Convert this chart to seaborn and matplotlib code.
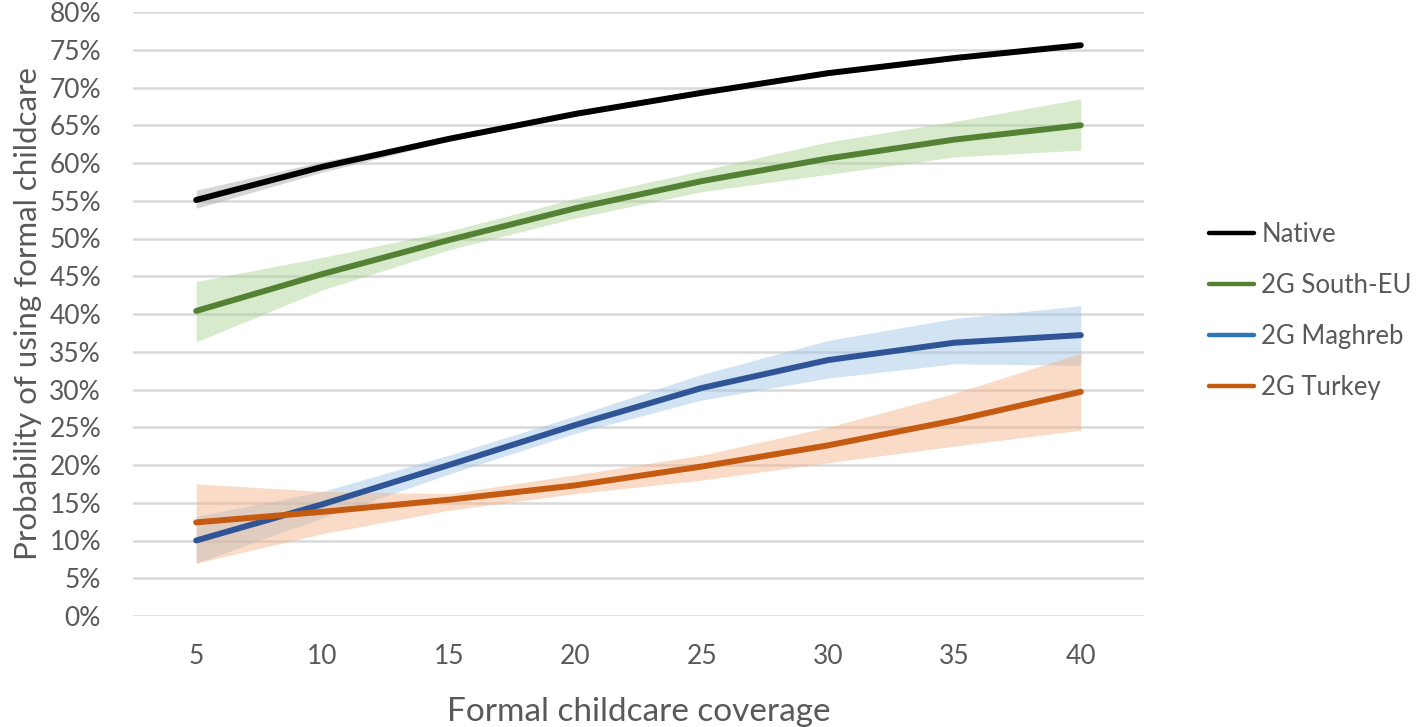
import matplotlib
matplotlib.use("Agg")
import matplotlib.pyplot as plt
import seaborn as sns
import pandas as pd
from matplotlib.lines import Line2D

coverage = [5, 10, 15, 20, 25, 30, 35, 40]
groups = ["Native", "2G South-EU", "2G Maghreb", "2G Turkey"]

native = [55.1, 59.5, 63.2, 66.5, 69.3, 71.9, 73.9, 75.6]
native_lo = [54.0, 58.8, 62.9, 66.2, 69.0, 71.6, 73.6, 75.3]
native_hi = [56.4, 60.2, 63.5, 66.8, 69.6, 72.2, 74.2, 75.9]

south_eu = [40.4, 45.3, 49.8, 54.0, 57.6, 60.6, 63.1, 65.0]
south_eu_lo = [36.3, 43.2, 48.5, 52.7, 56.2, 58.5, 60.8, 61.7]
south_eu_hi = [44.3, 47.5, 51.0, 55.3, 59.0, 62.8, 65.5, 68.5]

maghreb = [10.0, 14.8, 20.0, 25.3, 30.2, 33.9, 36.2, 37.2]
maghreb_lo = [7.0, 13.0, 18.8, 24.2, 28.6, 31.5, 33.4, 33.2]
maghreb_hi = [13.2, 16.5, 21.3, 26.5, 32.0, 36.5, 39.4, 41.1]

turkey = [12.4, 13.8, 15.4, 17.3, 19.8, 22.6, 25.9, 29.7]
turkey_lo = [7.0, 10.9, 14.0, 16.2, 18.0, 20.3, 22.5, 24.6]
turkey_hi = [17.5, 16.5, 16.2, 18.7, 21.3, 25.0, 29.5, 34.8]

line_colors = ["#000000", "#548235", "#2F5597", "#C55A11"]
band_colors = ["#A6A6A6", "#A9D18E", "#9DC3E6", "#F4B183"]
legend_colors = ["#000000", "#548235", "#2E75B6", "#C55A11"]

means = [native, south_eu, maghreb, turkey]
los = [native_lo, south_eu_lo, maghreb_lo, turkey_lo]
his = [native_hi, south_eu_hi, maghreb_hi, turkey_hi]

rows = []
for g, m in zip(groups, means):
    for x, v in zip(coverage, m):
        rows.append({"coverage": x, "prob": v / 100, "group": g})
df = pd.DataFrame(rows)

sns.set_theme(style="white")
plt.rcParams["font.family"] = ["Lato", "DejaVu Sans"]

fig = plt.figure(figsize=(14.17, 7.27), dpi=100)
ax = fig.add_axes([133 / 1417, 1 - 616 / 727, (1144 - 133) / 1417, (616 - 12) / 727])

for y in [i * 0.05 for i in range(17)]:
    ax.axhline(y, color="#D9D9D9", lw=1.8, zorder=0)

for g, lo, hi, bc in zip(groups, los, his, band_colors):
    ax.fill_between(coverage, [v / 100 for v in lo], [v / 100 for v in hi],
                    color=bc, alpha=0.45, lw=0, zorder=1)

sns.lineplot(data=df, x="coverage", y="prob", hue="group", hue_order=groups,
             palette=line_colors, lw=4.3, ax=ax, legend=False, zorder=3,
             solid_capstyle="round")

ax.set_xlim(2.5, 42.5)
ax.set_ylim(0, 0.8)
ax.set_xticks(coverage)
ax.set_xticklabels([str(c) for c in coverage])
ax.set_yticks([i * 0.05 for i in range(17)])
ax.set_yticklabels([f"{i * 5}%" for i in range(17)])
ax.tick_params(axis="both", length=0, labelsize=19, labelcolor="#595959")
ax.tick_params(axis="x", pad=20)
ax.tick_params(axis="y", pad=23)
for s in ax.spines.values():
    s.set_visible(False)
ax.grid(False)

ax.set_xlabel("Formal childcare coverage", fontsize=24, color="#595959", labelpad=20)
ax.set_ylabel("Probability of using formal childcare", fontsize=22.5, color="#595959", labelpad=5)

handles = [Line2D([0], [0], color=c, lw=3.2) for c in legend_colors]
leg = fig.legend(handles, groups, loc="center left", bbox_to_anchor=(1188 / 1417, 1 - 311 / 727),
                 frameon=False, fontsize=18.5, labelcolor="#595959", handlelength=1.75,
                 handletextpad=0.3, labelspacing=1.0, borderpad=0.3)

fig.savefig("out.png", dpi=100)
